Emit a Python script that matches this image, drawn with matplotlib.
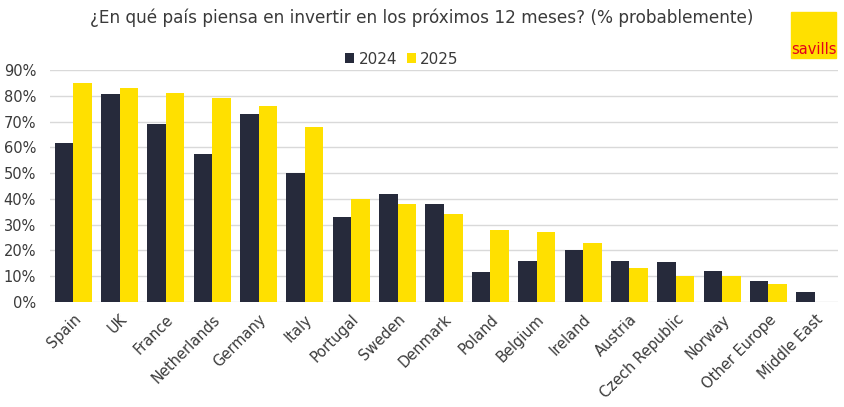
import matplotlib
matplotlib.use("Agg")
from matplotlib import pyplot as plt
from matplotlib.patches import Rectangle
import numpy as np

countries = [
    "Spain", "UK", "France", "Netherlands", "Germany", "Italy", "Portugal",
    "Sweden", "Denmark", "Poland", "Belgium", "Ireland", "Austria",
    "Czech Republic", "Norway", "Other Europe", "Middle East",
]
values_2024 = [61.5, 80.5, 69, 57.5, 73, 50, 33, 42, 38, 11.5, 16, 20, 16, 15.5, 12, 8, 4]
values_2025 = [85, 83, 81, 79, 76, 68, 40, 38, 34, 28, 27, 23, 13, 10, 10, 7, 0]
yticks = [0, 10, 20, 30, 40, 50, 60, 70, 80, 90]

DARK = "#262a3b"
YELLOW = "#ffe000"
TEXT = "#3a3a3a"

plt.rcParams["font.family"] = ["DejaVu Sans"]

fig = plt.figure(figsize=(8.45, 4.07), dpi=100)
ax = fig.add_axes([50 / 845, 105 / 407, 788 / 845, 232 / 407])

x = np.arange(len(countries))
w = 0.4
ax.bar(x - w / 2, values_2024, w, color=DARK, label="2024", zorder=3)
ax.bar(x + w / 2, values_2025, w, color=YELLOW, label="2025", zorder=3)

ax.set_xlim(-0.5, len(countries) - 0.5)
ax.set_ylim(0, 90)
ax.set_yticks(yticks)
ax.set_yticklabels([f"{t}%" for t in yticks], fontsize=10.5, color=TEXT)
ax.yaxis.grid(True, color="#d9d9d9", linewidth=1, zorder=0)
ax.set_xticks(x)
ax.set_xticklabels(countries, rotation=45, ha="right", rotation_mode="anchor",
                   fontsize=10.5, color=TEXT)
ax.tick_params(axis="both", length=0)
ax.tick_params(axis="x", pad=7)
ax.tick_params(axis="y", pad=10)
for s in ax.spines.values():
    s.set_visible(False)

fig.legend(loc="center", bbox_to_anchor=(402 / 845, 1 - 59 / 407), ncol=2,
           frameon=False, fontsize=11, handlelength=0.6, handleheight=0.6,
           handletextpad=0.3, columnspacing=0.6, labelcolor=TEXT)

fig.text(422 / 845, 1 - 18 / 407,
         "¿En qué país piensa en invertir en los próximos 12 meses? (% probablemente)",
         ha="center", va="center", fontsize=12.2, color=TEXT)

# savills logo
fig.patches.append(Rectangle((791 / 845, 1 - 58 / 407), 45 / 845, 46 / 407,
                             transform=fig.transFigure, color=YELLOW))
fig.text(813.5 / 845, 1 - 49 / 407, "savills", ha="center", va="center",
         fontsize=10.5, color="#e4001b", fontfamily="Liberation Sans Narrow")

fig.savefig("out.png", dpi=100)
